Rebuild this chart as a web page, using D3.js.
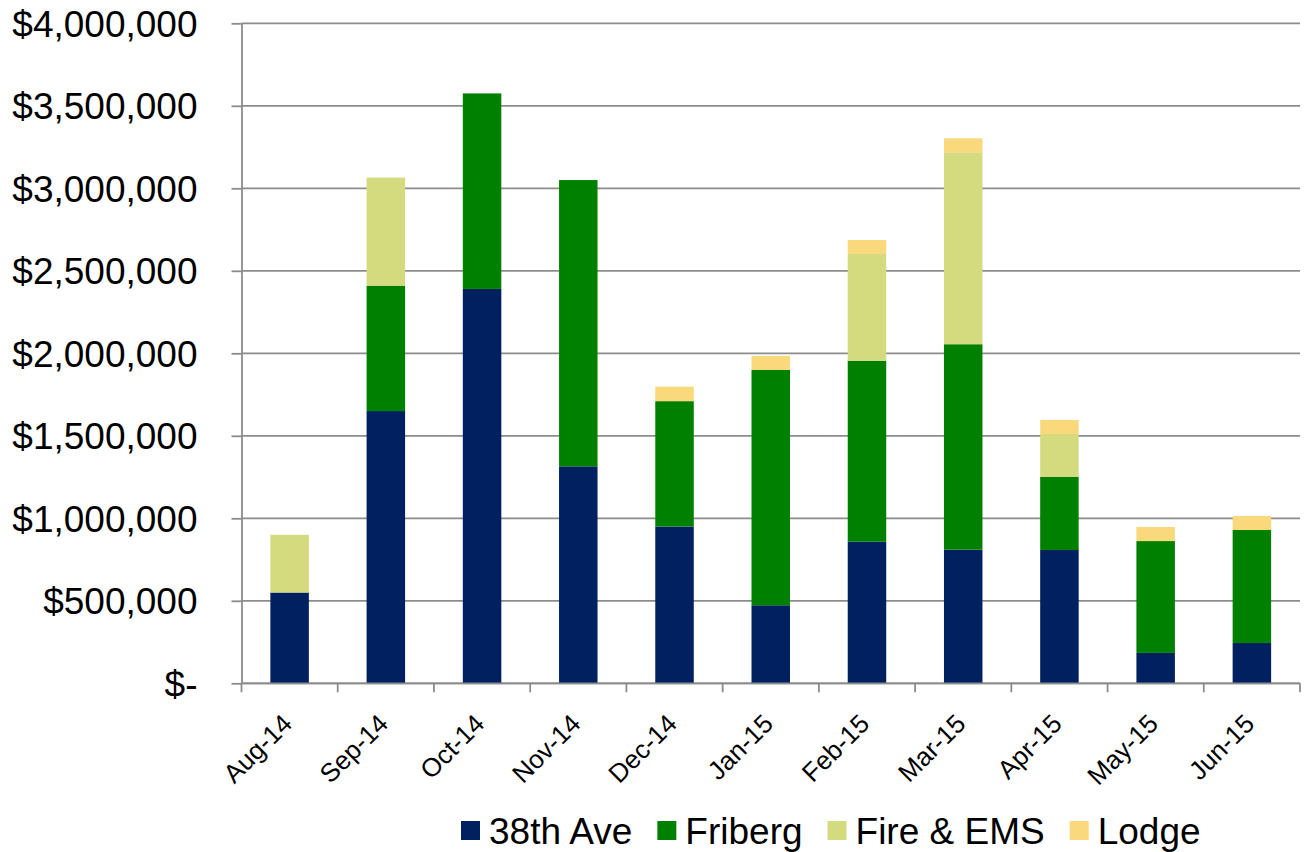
<!DOCTYPE html>
<html>
<head>
<meta charset="utf-8">
<script src="https://cdn.jsdelivr.net/npm/d3@7"></script>
<style>
  html, body { margin: 0; padding: 0; background: #ffffff; }
  svg { display: block; font-family: "Liberation Sans", Arial, sans-serif; }
</style>
</head>
<body>
<svg id="chart" width="1305" height="852"></svg>
<script>
// Monthly amounts by project
const categories = ["Aug-14", "Sep-14", "Oct-14", "Nov-14", "Dec-14", "Jan-15", "Feb-15", "Mar-15", "Apr-15", "May-15", "Jun-15"];
const ave38   = [550000, 1650000, 2390000, 1315000, 950000, 473000, 858000, 810000, 808000, 184000, 244000];
const friberg = [0, 760000, 1185000, 1735000, 760000, 1426000, 1097000, 1245000, 444000, 678000, 685000];
const fireEms = [350000, 655000, 0, 0, 0, 0, 647000, 1163000, 259000, 0, 0];
const lodge   = [0, 0, 0, 0, 88000, 85000, 85000, 85000, 85000, 85000, 85000];
const seriesNames = ["38th Ave", "Friberg", "Fire & EMS", "Lodge"];
const seriesColors = ["#002060", "#008000", "#D4DA7E", "#FAD87C"];
const yTicks = [0, 500000, 1000000, 1500000, 2000000, 2500000, 3000000, 3500000, 4000000];

const svg = d3.select("#chart");
const plotLeft = 241.5, plotRight = 1300, plotTop = 23.3, plotBottom = 683.3;

const rows = categories.map((c, i) => ({
  cat: c, "38th Ave": ave38[i], "Friberg": friberg[i], "Fire & EMS": fireEms[i], "Lodge": lodge[i]
}));
const stacked = d3.stack().keys(seriesNames)(rows);

const x = d3.scaleBand().domain(categories).range([plotLeft, plotRight]).paddingInner(0.6).paddingOuter(0.3);
const y = d3.scaleLinear().domain([0, 4000000]).range([plotBottom, plotTop]);
const color = d3.scaleOrdinal().domain(seriesNames).range(seriesColors);

const gridColor = "#8c8c8c";

// horizontal gridlines
svg.append("g").selectAll("line").data(yTicks).join("line")
  .attr("x1", plotLeft).attr("x2", plotRight)
  .attr("y1", d => y(d)).attr("y2", d => y(d))
  .attr("stroke", gridColor).attr("stroke-width", 1.8);

// stacked bars
svg.append("g").selectAll("g").data(stacked).join("g")
  .attr("fill", d => color(d.key))
  .selectAll("rect").data(d => d.filter(p => p[1] - p[0] > 0)).join("rect")
  .attr("x", d => x(d.data.cat))
  .attr("width", x.bandwidth())
  .attr("y", d => y(d[1]))
  .attr("height", d => y(d[0]) - y(d[1]));

// y axis
const fmt = d3.format("$,");
const yAxis = svg.append("g").attr("transform", `translate(${plotLeft},0)`)
  .call(d3.axisLeft(y).tickValues(yTicks).tickSizeInner(10).tickSizeOuter(0).tickPadding(34)
    .tickFormat(d => d === 0 ? "$-" : fmt(d)));
yAxis.select(".domain").attr("stroke", gridColor).attr("stroke-width", 1.8);
yAxis.selectAll(".tick line").attr("stroke", gridColor).attr("stroke-width", 1.8);
yAxis.selectAll(".tick text").attr("font-size", 37).attr("fill", "#000").attr("font-family", "Liberation Sans, Arial, sans-serif").attr("dy", "0.35em");

// x axis: labels under bars, ticks at category boundaries
const xAxis = svg.append("g").attr("transform", `translate(0,${plotBottom})`)
  .call(d3.axisBottom(x).tickSize(0).tickPadding(0));
xAxis.select(".domain").remove();
xAxis.selectAll(".tick text")
  .attr("font-size", 26).attr("fill", "#000").attr("font-family", "Liberation Sans, Arial, sans-serif")
  .attr("text-anchor", "end")
  .attr("dy", null).attr("y", 0)
  .attr("transform", "translate(4,42) rotate(-45)");

const gap = (x.step() - x.bandwidth()) / 2;
const bounds = categories.map(c => x(c) - gap).concat([plotRight]);
svg.append("g").selectAll("line").data(bounds).join("line")
  .attr("x1", d => d).attr("x2", d => d)
  .attr("y1", plotBottom).attr("y2", plotBottom + 9)
  .attr("stroke", gridColor).attr("stroke-width", 1.8);
svg.append("line").attr("x1", plotLeft).attr("x2", plotRight).attr("y1", plotBottom).attr("y2", plotBottom)
  .attr("stroke", gridColor).attr("stroke-width", 1.8);

// legend
const legend = svg.append("g");
let lx = 461;
seriesNames.forEach((name, i) => {
  const g = legend.append("g");
  g.append("rect").attr("x", lx).attr("y", 821).attr("width", 19).attr("height", 19).attr("fill", seriesColors[i]);
  const t = g.append("text").attr("x", lx + 28).attr("y", 844)
    .attr("font-size", 37).attr("fill", "#000").text(name);
  lx += 28 + t.node().getComputedTextLength() + 25;
});
</script>
</body>
</html>
